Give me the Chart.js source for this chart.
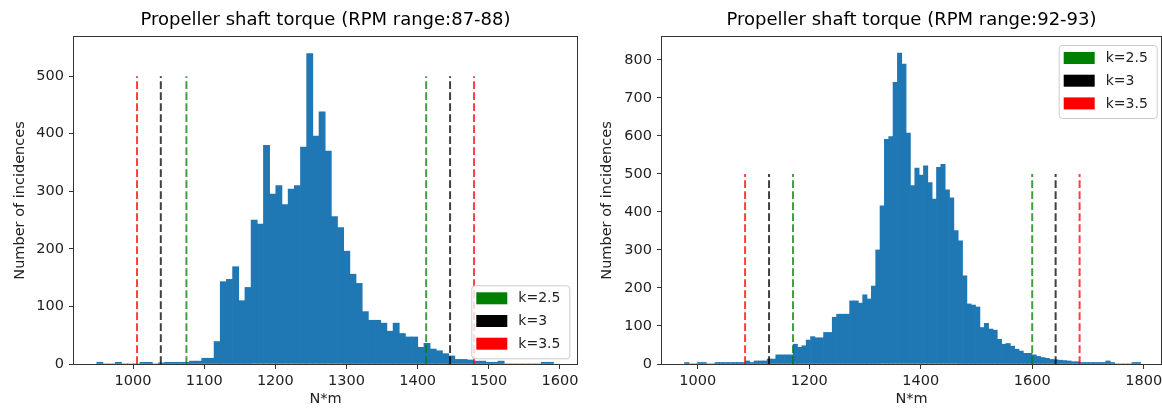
<!DOCTYPE html>
<html>
<head>
<meta charset="utf-8">
<script src="https://cdn.jsdelivr.net/npm/chart.js@4.4.1/dist/chart.umd.min.js"></script>
<style>
  html, body { margin: 0; padding: 0; background: #fff; overflow: hidden; }
  .panel { position: absolute; top: 0; height: 410px; }
</style>
</head>
<body>
<div class="panel" style="left:0;width:590px"><canvas id="left" width="590" height="410"></canvas></div>
<div class="panel" style="left:590px;width:572px"><canvas id="right" width="572" height="410"></canvas></div>
<script>
// --- data ---
const leftTitle = 'Propeller shaft torque (RPM range:87-88)';
const rightTitle = 'Propeller shaft torque (RPM range:92-93)';

const leftBinStart = 949;
const leftBinWidth = 8.677;
const leftCounts = [
  3, 0, 0, 3, 0, 0, 0, 3, 3, 0, 2, 3, 3, 3, 3, 5, 5, 10, 10, 39,
  143, 147, 169, 110, 133, 250, 243, 380, 295, 310, 277, 304, 310, 377, 539, 396, 438, 370, 256, 237,
  196, 156, 140, 91, 76, 76, 71, 57, 71, 53, 47, 47, 29, 36, 26, 23, 18, 14, 8, 8,
  7, 5, 5, 3, 3, 5, 0, 0, 0, 0, 0, 0, 3, 3
];

const rightBinStart = 976.5;
const rightBinWidth = 7.79;
const rightCounts = [
  4, 0, 0, 4, 4, 0, 0, 4, 4, 4, 4, 4, 4, 4, 8, 4, 8, 8, 8, 13,
  13, 24, 24, 24, 24, 52, 44, 48, 63, 72, 69, 69, 83, 83, 123, 131, 131, 131, 166, 166,
  160, 182, 171, 205, 300, 416, 591, 598, 741, 818, 789, 607, 469, 515, 497, 521, 477, 434, 517, 525,
  458, 437, 351, 324, 232, 158, 155, 150, 96, 107, 92, 89, 65, 52, 54, 47, 39, 34, 28, 28,
  24, 20, 17, 15, 12, 11, 10, 9, 8, 6, 6, 4, 4, 4, 4, 4, 4, 8, 4, 0,
  0, 0, 0, 4, 4
];

// threshold lines, order k=2.5, k=3, k=3.5
const kLabels = ['k=2.5', 'k=3', 'k=3.5'];
const leftLower = [1075, 1039, 1005.6];
const leftUpper = [1412, 1445.6, 1479.3];
const rightLower = [1171, 1128, 1085];
const rightUpper = [1600, 1642, 1685];
const kLineTop = 500;

const leftXRange = [917, 1624];
const rightXRange = [936, 1831];
const leftYMax = 568;
const rightYMax = 860;
const leftXTicks = [1000, 1100, 1200, 1300, 1400, 1500, 1600];
const rightXTicks = [1000, 1200, 1400, 1600, 1800];
const leftYTicks = [0, 100, 200, 300, 400, 500];
const rightYTicks = [0, 100, 200, 300, 400, 500, 600, 700, 800];

// --- styling ---
Chart.defaults.font.family = '"DejaVu Sans", sans-serif';
Chart.defaults.font.size = 14.5;
Chart.defaults.color = '#222';
Chart.defaults.animation = false;

const BAR_BLUE = '#1f77b4';
const K_LINE = ['rgba(0,128,0,0.75)', 'rgba(0,0,0,0.75)', 'rgba(255,0,0,0.75)'];
const K_PATCH = ['#008000', '#000000', '#ff0000'];
const AXIS = '#333';

// axes frame on all four sides, title centred over the plot area
const frame = {
  id: 'frame',
  afterLayout(chart) {
    if (chart.titleBlock) {
      chart.titleBlock.left = chart.chartArea.left;
      chart.titleBlock.right = chart.chartArea.right;
    }
  },
  afterDatasetsDraw(chart) {
    const { ctx, chartArea: a } = chart;
    ctx.save();
    ctx.strokeStyle = AXIS;
    ctx.lineWidth = 1;
    ctx.strokeRect(Math.round(a.left) - 0.5, Math.round(a.top) - 0.5,
      Math.round(a.right - a.left) + 1, Math.round(a.bottom - a.top) + 1);
    ctx.restore();
  }
};

// matplotlib-like legend box with colour patches
const kLegend = {
  id: 'kLegend',
  afterDraw(chart, args, opts) {
    const { ctx, chartArea: a } = chart;
    const w = 98, h = 73;
    const x = a.right - opts.inset[0] - w;
    const y = opts.corner === 'lower' ? a.bottom - opts.inset[1] - h : a.top + opts.inset[1];
    ctx.save();
    ctx.beginPath();
    ctx.roundRect(x + 0.5, y + 0.5, w, h, 3);
    ctx.fillStyle = 'rgba(255,255,255,0.8)';
    ctx.fill();
    ctx.strokeStyle = '#ccc';
    ctx.lineWidth = 1;
    ctx.stroke();
    ctx.font = '14px "DejaVu Sans"';
    ctx.textBaseline = 'middle';
    kLabels.forEach((label, i) => {
      const ry = y + 7 + i * 22.7;
      ctx.fillStyle = K_PATCH[i];
      ctx.fillRect(x + 5, ry, 31, 12);
      ctx.fillStyle = '#222';
      ctx.fillText(label, x + 47, ry + 6.5);
    });
    ctx.restore();
  }
};

function histogram(start, width, counts) {
  return counts.map((c, i) => ({ x: start + (i + 0.5) * width, y: c }));
}

function kLines(lower, upper) {
  const sets = [];
  kLabels.forEach((label, i) => {
    [lower[i], upper[i]].forEach((x) => sets.push({
      type: 'line',
      label,
      data: [{ x, y: 0 }, { x, y: kLineTop }],
      borderColor: K_LINE[i],
      borderWidth: 2,
      borderDash: [7.7, 3.3],
      pointRadius: 0,
      fill: false,
      order: 1,
    }));
  });
  return sets;
}

function build(id, o) {
  new Chart(document.getElementById(id), {
    type: 'bar',
    data: {
      datasets: [
        {
          label: 'counts',
          data: histogram(o.binStart, o.binWidth, o.counts),
          backgroundColor: BAR_BLUE,
          borderWidth: 0,
          barPercentage: 1,
          categoryPercentage: 1,
          order: 2,
        },
        ...kLines(o.lower, o.upper),
      ],
    },
    options: {
      responsive: false,
      layout: { padding: { left: 0, right: o.padRight, top: 0, bottom: 0 } },
      plugins: {
        legend: { display: false },
        tooltip: { enabled: false },
        title: {
          display: true, text: o.title, color: '#000',
          font: { size: 18, weight: 'normal' },
          padding: { top: 9.7, bottom: 5.7 },
        },
        kLegend: o.legend,
      },
      scales: {
        x: {
          type: 'linear', min: o.xRange[0], max: o.xRange[1], offset: false,
          grid: { drawOnChartArea: false, offset: false, tickLength: 5, color: AXIS },
          border: { display: false },
          ticks: { padding: 3.3, maxRotation: 0, autoSkip: false, callback: (v) => String(v) },
          afterBuildTicks: (s) => { s.ticks = o.xTicks.map((v) => ({ value: v })); },
          afterFit: (s) => { s.height = 46; s.paddingLeft = 0; s.paddingRight = 0; },
          title: { display: true, text: 'N*m', padding: { top: 0, bottom: 2.3 } },
        },
        y: {
          type: 'linear', min: 0, max: o.yMax,
          grid: { drawOnChartArea: false, tickLength: 5, color: AXIS },
          border: { display: false },
          ticks: { padding: 5, callback: (v) => String(v) },
          afterBuildTicks: (s) => { s.ticks = o.yTicks.map((v) => ({ value: v })); },
          afterFit: (s) => { s.width = o.yAxisWidth; s.paddingTop = 0; s.paddingBottom = 0; },
          title: { display: true, text: 'Number of incidences', padding: { top: o.yTitlePad, bottom: 0 } },
        },
      },
    },
    plugins: [frame, kLegend],
  });
}

build('left', {
  title: leftTitle, binStart: leftBinStart, binWidth: leftBinWidth, counts: leftCounts,
  lower: leftLower, upper: leftUpper, xRange: leftXRange, yMax: leftYMax,
  xTicks: leftXTicks, yTicks: leftYTicks,
  yAxisWidth: 74, padRight: 13, yTitlePad: 11.3,
  legend: { corner: 'lower', inset: [7.7, 5.7] },
});

build('right', {
  title: rightTitle, binStart: rightBinStart, binWidth: rightBinWidth, counts: rightCounts,
  lower: rightLower, upper: rightUpper, xRange: rightXRange, yMax: rightYMax,
  xTicks: rightXTicks, yTicks: rightYTicks,
  yAxisWidth: 72, padRight: 1, yTitlePad: 8.3,
  legend: { corner: 'upper', inset: [4.3, 8] },
});
</script>
</body>
</html>
